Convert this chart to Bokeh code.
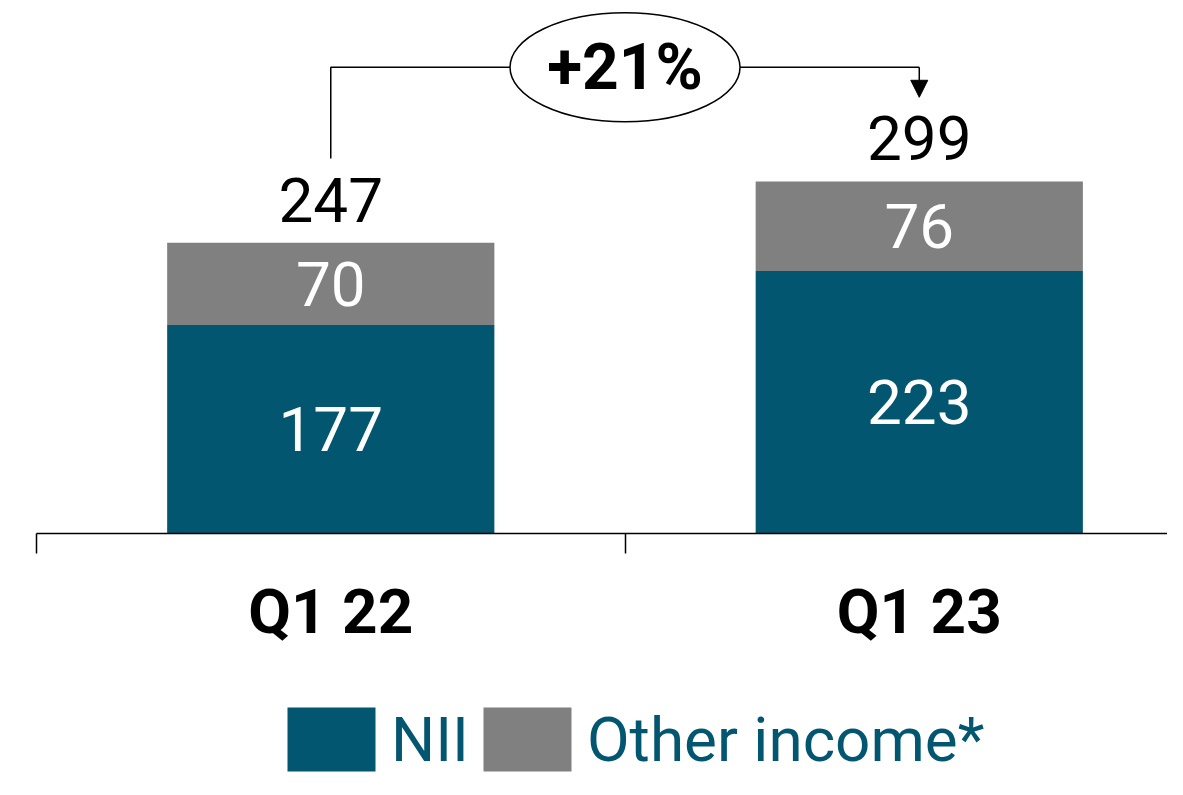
from bokeh.plotting import figure
from bokeh.models import (Range1d, LinearAxis, FixedTicker, ColumnDataSource,
                          Legend, LegendItem, Arrow, NormalHead)
from bokeh.core.properties import value
from bokeh.embed import file_html
from bokeh.resources import INLINE

# ---------------- data ----------------
categories = ["Q1 22", "Q1 23"]
nii = [177, 223]
other_income = [70, 76]
totals = [247, 299]
series_names = ["NII", "Other income*"]

# ---------------- styles ----------------
TEAL = "#02566f"
GREY = "#808080"
FONT = "Roboto"
FS = "62px"

W, H = 1167, 779

x_pos = [i + 0.5 for i in range(len(categories))]

p = figure(width=W, height=H, output_backend="svg", toolbar_location=None,
           x_range=Range1d(-0.0612, 1.9218), y_range=Range1d(-208.9, 452.7),
           x_axis_location=None, y_axis_location=None,
           min_border=0, min_border_left=0, min_border_right=0,
           min_border_top=0, min_border_bottom=0)
p.outline_line_color = None
p.grid.visible = False
p.background_fill_color = "white"
p.border_fill_color = "white"

label_gap = 36.5
src = ColumnDataSource(dict(x=x_pos, nii=nii, other=other_income,
                            nii_mid=[v / 2 for v in nii],
                            oth_mid=[a + b / 2 for a, b in zip(nii, other_income)],
                            nii_txt=[str(v) for v in nii],
                            oth_txt=[str(v) for v in other_income],
                            tot_y=[t + label_gap for t in totals],
                            tot_txt=[str(v) for v in totals]))

rs = p.vbar_stack(["nii", "other"], x="x", width=0.556, color=[TEAL, GREY],
                  line_color=None, source=src)

# value labels inside bars
for ycol, tcol in (("nii_mid", "nii_txt"), ("oth_mid", "oth_txt")):
    p.text(x="x", y=ycol, text=tcol, source=src, text_color="white",
           text_font=value(FONT), text_font_size=FS, text_align="center",
           text_baseline="middle")

# totals above bars
p.text(x="x", y="tot_y", text="tot_txt", source=src, text_color="black",
       text_font=value(FONT), text_font_size=FS, text_align="center",
       text_baseline="middle")

# growth annotation
pct = round((totals[1] / totals[0] - 1) * 100)
bracket_y = max(totals) + 97
gap = 71.5
p.line(x=[x_pos[0], x_pos[0], x_pos[1]],
       y=[totals[0] + gap, bracket_y, bracket_y], line_color="black", line_width=1.5)
p.add_layout(Arrow(end=NormalHead(size=17, fill_color="black", line_color="black", line_width=1),
                   x_start=x_pos[1], y_start=bracket_y, x_end=x_pos[1], y_end=totals[1] + gap,
                   line_color="black", line_width=1.5))
mid_x = sum(x_pos) / 2
p.ellipse(x=[mid_x], y=[bracket_y], width=230, height=109, width_units="screen",
          height_units="screen", fill_color="white", line_color="black", line_width=1.5)
p.text(x=[mid_x], y=[bracket_y], text=[f"+{pct}%"], text_color="black",
       text_font=value(FONT), text_font_size="64px", text_font_style="bold",
       text_align="center", text_baseline="middle")

# x axis at y = 0
xaxis = LinearAxis(fixed_location=0,
                   ticker=FixedTicker(ticks=x_pos, minor_ticks=list(range(len(categories) + 1))),
                   bounds=(0, len(categories)))
xaxis.major_label_overrides = {xv: c for xv, c in zip(x_pos, categories)}
xaxis.axis_line_color = "black"
xaxis.axis_line_width = 1.5
xaxis.major_tick_in = 0
xaxis.major_tick_out = 0
xaxis.minor_tick_in = 0
xaxis.minor_tick_out = 20
xaxis.minor_tick_line_color = "black"
xaxis.minor_tick_line_width = 1.5
xaxis.major_label_standoff = 21
xaxis.major_label_text_font = FONT
xaxis.major_label_text_font_size = FS
xaxis.major_label_text_font_style = "bold"
xaxis.major_label_text_color = "black"
p.add_layout(xaxis, "below")

legend = Legend(items=[LegendItem(label=series_names[0], renderers=[rs[0]]),
                       LegendItem(label=series_names[1], renderers=[rs[1]])],
                orientation="horizontal", location=(276, 0),
                glyph_width=110, glyph_height=80, label_text_font=FONT,
                label_text_font_size=FS, label_text_color=TEAL,
                label_standoff=5, spacing=3, padding=0, margin=0,
                border_line_color=None, background_fill_alpha=0)
p.add_layout(legend, "center")

open("out.html", "w").write(file_html(p, INLINE))
